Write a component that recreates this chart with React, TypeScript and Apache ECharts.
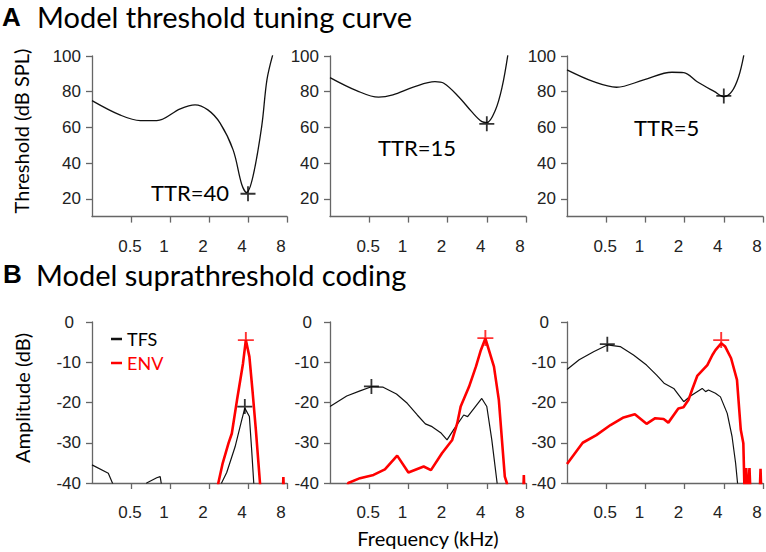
import React, { useEffect, useRef } from "react";
import * as echarts from "echarts";

// ---- Data (frequency in kHz, value) ----
const freqTicks = [0.5, 1, 2, 4, 8];
const thrTicks = [20, 40, 60, 80, 100];
const ampTicks = [0, -10, -20, -30, -40];

const thr1: number[][] = [
  [0.25, 75], [0.41, 67], [0.59, 63.8], [0.79, 63.8], [1.2, 70.4], [1.56, 72.6],
  [1.96, 69.8], [2.43, 62.5], [3.07, 47.4], [3.58, 28], [3.9, 23.5], [4.37, 32.5],
  [5.1, 60.4], [5.6, 86.6], [6.2, 100.5],
];
const thr2: number[][] = [
  [0.25, 87.9], [0.4, 80.6], [0.59, 76.9], [0.76, 78.2], [1.09, 82.5], [1.6, 85.6],
  [1.87, 84.7], [2.43, 77.2], [3.06, 68.8], [3.67, 63.2], [4.0, 62.7], [4.66, 69.8],
  [5.25, 82.8], [5.8, 100.5],
];
const thr3: number[][] = [
  [0.25, 92.2], [0.4, 85.6], [0.6, 82.5], [0.97, 86.6], [1.6, 90.9], [1.97, 90.7],
  [2.5, 85.6], [3.4, 80], [4.0, 77.2], [4.6, 80], [5.2, 88.4], [5.7, 100.5],
];
const thrMin = [[4.0, 22.8], [4.0, 62], [4.0, 77.6]];
const ttrLabels = ["TTR=40", "TTR=15", "TTR=5"];

const tfs1: number[][] = [
  [0.25, -35.5], [0.334, -37.6], [0.365, -40.5], [0.4, -50], [0.62, -50], [0.66, -40],
  [0.79, -38.7], [0.84, -38.4], [0.86, -40.5], [0.9, -50], [2.4, -50], [2.5, -40],
  [2.74, -37.4], [3.18, -31], [3.58, -24.3], [3.78, -21.4], [4.1, -23.5], [4.27, -31.8],
  [4.43, -40], [4.6, -50],
];
const env1: number[][] = [
  [2.2, -50], [2.36, -40], [2.55, -35.1], [2.83, -30.1], [3.0, -27.7], [3.29, -19.4],
  [3.66, -10.3], [3.85, -4.5], [4.1, -8.6], [4.35, -17.7], [4.6, -26.8], [4.95, -40],
  [5.1, -50], [7.3, -50], [7.5, -38.5], [7.7, -50],
];
const tfs2: number[][] = [
  [0.25, -21], [0.336, -18.4], [0.425, -17.1], [0.52, -16.1], [0.64, -16.2], [0.81, -17.9],
  [0.98, -20.2], [1.17, -23.1], [1.35, -25.3], [1.52, -26], [1.77, -27.5], [1.98, -29.3],
  [2.22, -26.8], [2.66, -23.1], [2.85, -23.5], [3.66, -19], [4.0, -21], [4.37, -29.3],
  [4.8, -40], [5.0, -50],
];
const env2: number[][] = [
  [0.3, -50], [0.345, -40], [0.425, -38.8], [0.54, -38], [0.66, -36.6], [0.82, -33.2],
  [1.0, -37.4], [1.31, -35.9], [1.49, -36.8], [1.81, -32.6], [2.17, -29.3], [2.37, -25.2],
  [2.52, -21], [2.92, -16.1], [3.3, -11.1], [3.6, -7], [3.9, -4.1], [4.54, -11.1],
  [4.95, -19.4], [5.5, -38.4], [5.7, -40], [5.9, -50], [7.5, -50], [7.7, -38], [7.9, -50],
];
const tfs3: number[][] = [
  [0.25, -11.8], [0.31, -9.4], [0.4, -7.4], [0.51, -5.7], [0.64, -6.1], [0.81, -8.2],
  [1.02, -10.7], [1.22, -13.2], [1.39, -15.2], [1.65, -16.5], [1.97, -19.8], [2.22, -18.4],
  [2.73, -16.5], [2.9, -17.3], [3.05, -16.9], [3.45, -17.7], [3.77, -18.6], [4.25, -22.7],
  [4.63, -28.5], [4.93, -35.1], [5.1, -40], [5.3, -50],
];
const env3: number[][] = [
  [0.25, -35.3], [0.33, -30], [0.42, -28.1], [0.54, -25.6], [0.68, -23.7], [0.83, -22.9],
  [1.02, -25.3], [1.19, -23.9], [1.38, -24.1], [1.5, -25], [1.79, -21.5], [1.96, -21.2],
  [2.14, -19.4], [2.28, -16.9], [2.5, -13.4], [2.99, -10.7], [3.27, -8.2], [3.45, -7],
  [3.82, -5.3], [4.1, -6.1], [4.55, -9], [5.05, -14.4], [5.4, -26.8], [5.65, -30.1],
  [5.8, -45], [5.95, -36.3], [6.05, -45], [6.3, -36.3], [6.45, -45], [7.5, -45],
  [7.66, -36.5], [7.8, -45],
];
const tfsPeak = [[3.78, -21], [0.52, -16], [0.51, -5.5]];
const envPeak = [[3.85, -4.5], [3.9, -4], [3.82, -4.5]];

const PLUS = "path://M0,44H44V0H56V44H100V56H56V100H44V56H0Z";
const CAL = "Lato, 'Open Sans', sans-serif";
const ARI = "'Liberation Sans', Arial, sans-serif";

export default function App() {
  const ref = useRef<HTMLDivElement>(null);
  useEffect(() => {
    document.body.style.margin = "0";
    const chart = echarts.init(ref.current!, null, { renderer: "svg" });
    const lefts = [92, 330, 567];
    const widths = [195, 196, 196];
    const grids: any[] = [];
    const xAxes: any[] = [];
    const yAxes: any[] = [];
    const axisLine = { lineStyle: { color: "#666", width: 1.3 } };
    const lbl = { fontSize: 17, fontFamily: ARI, color: "#222" };
    const fmtF = (v: number) => {
      const s = String(Math.round(v * 100) / 100);
      return v < 1 ? "{h|" + s + "}" : "{i|" + s + "}";
    };
    for (let r = 0; r < 2; r++) {
      for (let c = 0; c < 3; c++) {
        grids.push({
          left: lefts[c], width: widths[c],
          top: r === 0 ? 56 : 322, height: r === 0 ? 160.6 : 161,
          containLabel: false, outerBoundsMode: "none",
        });
        xAxes.push({
          type: "log", logBase: 2, min: 0.25, max: 8, gridIndex: r * 3 + c,
          axisLine: { ...axisLine, onZero: false },
          axisTick: { show: true, length: 6, customValues: freqTicks, lineStyle: { color: "#666", width: 1.3 } },
          axisLabel: {
            customValues: freqTicks, formatter: fmtF, margin: 21, ...lbl,
            rich: { h: { ...lbl, padding: [0, 2, 0, 0] }, i: { ...lbl, padding: [0, 12, 0, 0] } },
          },
          splitLine: { show: false }, minorTick: { show: false },
        });
        if (r === 0) {
          yAxes.push({
            type: "value", min: 10, max: 100, gridIndex: c,
            axisLine: { show: true, ...axisLine },
            axisTick: { show: true, length: 6, customValues: thrTicks, lineStyle: { color: "#666", width: 1.3 } },
            axisLabel: { customValues: thrTicks, margin: 11, ...lbl },
            splitLine: { show: false },
          });
        } else {
          yAxes.push({
            type: "value", min: -40, max: 0, interval: 10, gridIndex: 3 + c,
            axisLine: { show: true, ...axisLine },
            axisTick: { show: true, length: 6, lineStyle: { color: "#666", width: 1.3 } },
            axisLabel: {
              customValues: ampTicks,
              margin: 11, ...lbl,
              formatter: (v: number) => (v === 0 ? "{p|0}" : String(v)),
              rich: { p: { ...lbl, padding: [0, 7, 0, 0] } },
            },
            splitLine: { show: false },
          });
        }
      }
    }
    const thr = [thr1, thr2, thr3];
    const tfs = [tfs1, tfs2, tfs3];
    const env = [env1, env2, env3];
    const series: any[] = [];
    for (let c = 0; c < 3; c++) {
      series.push({
        type: "line", name: "thr" + c, xAxisIndex: c, yAxisIndex: c, data: thr[c],
        smooth: 0.35, showSymbol: false, color: "#111", lineStyle: { color: "#111", width: 1.3 }, clip: true,
      });
      series.push({
        type: "scatter", name: "thrMin" + c, xAxisIndex: c, yAxisIndex: c, data: [thrMin[c]],
        symbol: PLUS, symbolSize: 15, itemStyle: { color: "#000" }, z: 5,
      });
      series.push({
        type: "line", name: "TFS", xAxisIndex: 3 + c, yAxisIndex: 3 + c, data: tfs[c],
        showSymbol: false, color: "#111", lineStyle: { color: "#111", width: 1.2 }, clip: true,
      });
      series.push({
        type: "line", name: "ENV", xAxisIndex: 3 + c, yAxisIndex: 3 + c, data: env[c],
        showSymbol: false, color: "#ff0000", lineStyle: { color: "#ff0000", width: 2.6 }, clip: true,
      });
      series.push({
        type: "scatter", name: "tfsPeak" + c, xAxisIndex: 3 + c, yAxisIndex: 3 + c, data: [tfsPeak[c]],
        symbol: PLUS, symbolSize: 15, itemStyle: { color: "#000" }, z: 5,
      });
      series.push({
        type: "scatter", name: "envPeak" + c, xAxisIndex: 3 + c, yAxisIndex: 3 + c, data: [envPeak[c]],
        symbol: PLUS, symbolSize: 16, itemStyle: { color: "#ff0000" }, z: 5,
      });
    }
    const txt = (x: number, y: number, text: string, size: number, extra: any = {}) => ({
      type: "text", x, y,
      style: { text, fontSize: size, fontFamily: CAL, fill: "#000", verticalAlign: "middle", align: "left", ...extra },
    });
    chart.setOption({
      animation: false,
      backgroundColor: "#fff",
      grid: grids, xAxis: xAxes, yAxis: yAxes, series,
      legend: {
        data: [
          { name: "TFS", textStyle: { color: "#000" } },
          { name: "ENV", textStyle: { color: "#ff0000" } },
        ],
        orient: "vertical", left: 106, top: 324, icon: "rect", itemWidth: 11, itemHeight: 2.5,
        itemGap: 4, textStyle: { fontSize: 18, fontFamily: CAL, lineHeight: 20 },
        selectedMode: false,
      },
      graphic: [
        txt(2, 17, "A", 26, { fontFamily: ARI, fontWeight: "bold" }),
        txt(37, 16, "Model threshold tuning curve", 29),
        txt(3, 274, "B", 26, { fontFamily: ARI, fontWeight: "bold" }),
        txt(36, 274, "Model suprathreshold coding", 29),
        txt(229, 192, ttrLabels[0], 22, { align: "right" }),
        txt(378, 147, ttrLabels[1], 22),
        txt(634, 127, ttrLabels[2], 22),
        { ...txt(0, 0, "Threshold (dB SPL)", 20, { align: "center" }), x: 21, y: 131, rotation: Math.PI / 2 },
        { ...txt(0, 0, "Amplitude (dB)", 20, { align: "center" }), x: 22, y: 398, rotation: Math.PI / 2 },
        txt(428, 538, "Frequency (kHz)", 20, { align: "center" }),
      ],
    });
    return () => chart.dispose();
  }, []);
  return <div ref={ref} style={{ width: 766, height: 552, position: "absolute", left: 0, top: 0 }} />;
}
